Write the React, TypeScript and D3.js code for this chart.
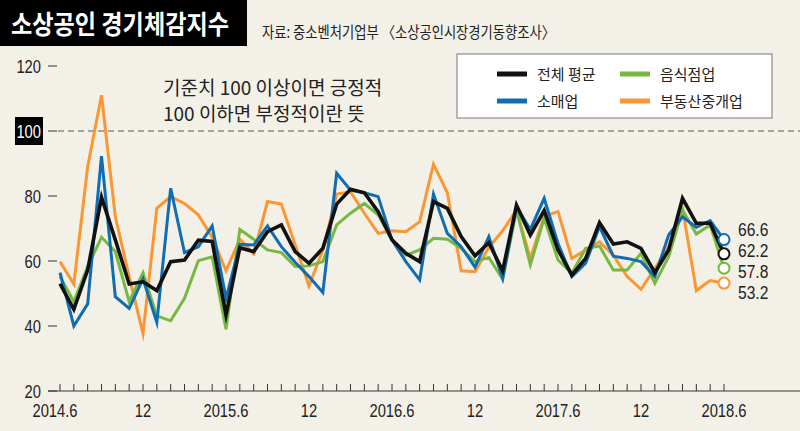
import React from "react";
import * as d3 from "d3";

// 2014.6 ~ 2018.6 monthly
const months = d3.range(49);
const tickLabels = ["2014.6", "12", "2015.6", "12", "2016.6", "12", "2017.6", "12", "2018.6"];
const yTicks = [20, 40, 60, 80, 100, 120];

const avg = [53, 45.1, 57.2, 79.6, 66.5, 52.9, 53.6, 50.9, 59.8, 60.3, 66.4, 66.0, 43.4, 64.1, 62.9, 69, 71.1, 62.9, 59.3, 63.9, 77.5, 82.1, 81.0, 75.2, 66.5, 62.4, 59.8, 78.3, 76.2, 67.5, 61.6, 65.6, 57.0, 77.2, 68, 75.5, 63.4, 55.7, 60.8, 71.8, 65.2, 65.9, 63.9, 56.4, 63.4, 79.3, 71.6, 71.6, 62.2];
const retail = [56.4, 40, 46.8, 92.3, 49, 45.4, 54.5, 41.1, 82.4, 62.6, 64.4, 70.8, 48.5, 65.1, 64.9, 70.8, 64.4, 59.6, 55.2, 50.3, 87, 81.8, 81, 79.8, 66.5, 59.8, 54.2, 80.6, 68.5, 64.4, 58.1, 67.5, 54.7, 76.7, 69.7, 79.3, 65.4, 55.2, 59.3, 70.6, 61.5, 60.8, 59.8, 55.2, 68, 73.6, 70.4, 72.4, 66.6];
const food = [55.2, 47.5, 58.3, 67.3, 62.9, 47.5, 56.4, 43.1, 41.6, 48.5, 60.1, 61.3, 39, 69.7, 66.7, 63.4, 62.6, 58.3, 58.5, 59.8, 71.1, 74.7, 77.7, 74.2, 66.5, 61.8, 63.4, 67, 66.7, 63.9, 59.8, 61.1, 54.4, 75.7, 58.8, 73.1, 60.3, 56.2, 63.9, 64.6, 57.2, 57.2, 62.4, 53.1, 61.3, 75.7, 68.3, 71.1, 57.8];
const realty = [59.8, 52.9, 89, 111, 73.6, 55.2, 37.7, 76.2, 79.8, 77.7, 74.2, 67.3, 57, 66.7, 62.2, 78.3, 77.5, 65, 52.3, 63.4, 80.6, 81.3, 74.7, 68.5, 69.3, 69, 72.1, 89.8, 81, 57, 56.7, 64.2, 69.3, 75.7, 60.8, 73.8, 75.2, 60.8, 63.4, 65.9, 61.8, 55.2, 51.3, 57.7, 64.4, 76.2, 50.9, 54, 53.2];

const series = [
  { name: "부동산중개업", values: realty, color: "#fb9633", width: 3 },
  { name: "음식점업", values: food, color: "#77b843", width: 3 },
  { name: "소매업", values: retail, color: "#0f6db3", width: 3 },
  { name: "전체 평균", values: avg, color: "#111111", width: 3.6 },
];

const KR = "'Noto Sans CJK KR', 'Noto Sans', sans-serif";
const NUM = "'Liberation Sans', Arial, sans-serif";

// condensed number text
const Num = ({ x, y, anchor = "start", size = 17, fill = "#222", children }: any) => (
  <text
    transform={`translate(${x},${y}) scale(0.82,1)`}
    textAnchor={anchor}
    fill={fill}
    fontFamily={NUM}
    fontSize={size}
  >
    {children}
  </text>
);

export default function App() {
  const W = 800, H = 431;
  const x = d3.scaleLinear().domain([0, 48]).range([60, 724]);
  const y = d3.scaleLinear().domain([20, 120]).range([391, 66]);
  const line = d3.line<number>().x((_, i) => x(i)).y((d) => y(d));

  // end labels, spread in value order
  const ends = series.map((s) => ({ ...s, last: s.values[s.values.length - 1] }))
    .sort((a, b) => b.last - a.last);
  const meanY = d3.mean(ends, (e) => y(e.last)) || 0;

  const legend = [
    { s: series[3], col: 0, row: 0 },
    { s: series[1], col: 1, row: 0 },
    { s: series[2], col: 0, row: 1 },
    { s: series[0], col: 1, row: 1 },
  ];

  return (
    <svg width={W} height={H} style={{ position: "absolute", left: 0, top: 0 }}>
      <rect width={W} height={H} fill="#f3f1e7" />
      {/* title */}
      <rect x={0} y={0} width={247} height={46} fill="#000" />
      <text x={11} y={34} fill="#fff" fontFamily={KR} fontWeight={700} fontSize={26} textLength={218} lengthAdjust="spacingAndGlyphs">소상공인 경기체감지수</text>
      <text x={262} y={38} fill="#222" fontFamily={KR} fontSize={16} textLength={293} lengthAdjust="spacingAndGlyphs">자료: 중소벤처기업부 〈소상공인시장경기동향조사〉</text>

      {/* y axis */}
      {yTicks.map((t) => (
        <g key={t}>
          {t === 100 ? (
            <>
              <rect x={15} y={y(t) - 14} width={28} height={28} fill="#000" />
              <Num x={41} y={y(t) + 6.5} anchor="end" fill="#fff" size={18}>{t}</Num>
            </>
          ) : (
            <Num x={41} y={y(t) + 6.5} anchor="end" size={18}>{t}</Num>
          )}
          <line x1={48} x2={57} y1={y(t)} y2={y(t)} stroke="#333" strokeWidth={1} />
        </g>
      ))}
      <line x1={58} x2={W} y1={y(100)} y2={y(100)} stroke="#8a8a8a" strokeWidth={1.3} strokeDasharray="6,4" />

      {/* x axis */}
      <line x1={48} x2={W} y1={y(20)} y2={y(20)} stroke="#333" strokeWidth={1} />
      {months.map((m) => (
        <line key={m} x1={x(m)} x2={x(m)} y1={y(20) - 7} y2={y(20)} stroke="#333" strokeWidth={1} />
      ))}
      {tickLabels.map((l, i) => (
        <Num key={i} x={x(i * 6) - (i === 0 ? 5 : 0)} y={417} anchor="middle" size={18}>{l}</Num>
      ))}

      {/* annotation */}
      <text x={163} y={95} fill="#222" fontFamily={KR} fontSize={19}>기준치 100 이상이면 긍정적</text>
      <text x={163} y={121} fill="#222" fontFamily={KR} fontSize={19}>100 이하면 부정적이란 뜻</text>

      {/* legend */}
      <rect x={457} y={54} width={315} height={64} fill="#fff" stroke="#8c8c8c" strokeWidth={1.2} />
      {legend.map(({ s, col, row }) => {
        const lx = 497 + col * 123;
        const ly = 74 + row * 27;
        return (
          <g key={s.name}>
            <line x1={lx} x2={lx + 30} y1={ly} y2={ly} stroke={s.color} strokeWidth={5} />
            <text x={lx + 40} y={ly + 5.5} fill="#222" fontFamily={KR} fontSize={15}>{s.name}</text>
          </g>
        );
      })}

      {/* lines */}
      {series.map((s) => (
        <path key={s.name} d={line(s.values) || ""} fill="none" stroke={s.color} strokeWidth={s.width} strokeLinejoin="miter" strokeMiterlimit={6} />
      ))}

      {/* end markers */}
      {ends.map((e, k) => (
        <g key={e.name}>
          <circle cx={x(48)} cy={y(e.last)} r={5.5} fill="#fff" stroke={e.color} strokeWidth={2} />
          <Num x={738} y={meanY + (k - 1.5) * 21 + 6.5} size={19}>{e.last.toFixed(1)}</Num>
        </g>
      ))}
    </svg>
  );
}
